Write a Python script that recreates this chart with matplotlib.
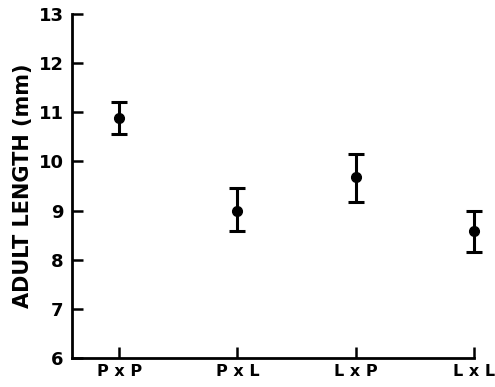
import numpy as np
import matplotlib
matplotlib.use('Agg')
import matplotlib.pyplot as plt

# crosses and adult length (mm)
crosses = ["P x P", "P x L", "L x P", "L x L"]
means = [10.88, 9.0, 9.68, 8.58]
upper = [11.2, 9.45, 10.15, 9.0]
lower = [10.55, 8.58, 9.17, 8.15]

plt.rcParams.update({'font.family': 'DejaVu Sans', 'font.weight': 'bold'})

fig = plt.figure(figsize=(4.95, 3.87), dpi=100)
ax = fig.add_axes([0.145, 0.075, 0.813, 0.889])

x = np.arange(1, len(crosses) + 1)
yerr = [np.array(means) - np.array(lower), np.array(upper) - np.array(means)]
eb = ax.errorbar(x, means, yerr=yerr, fmt='o', color='black', ms=7,
                 elinewidth=2.2, capsize=6, capthick=2.2)
for art in eb.lines[0:1] + tuple(eb.lines[1]) + tuple(eb.lines[2]):
    art.set_clip_on(False)

ax.set_xlim(0.6, 4.0)
ax.set_ylim(6, 13)
ax.set_yticks(range(6, 14))
ax.set_yticklabels([str(v) for v in range(6, 14)], fontsize=13, fontweight='bold')
ax.set_xticks(x)
ax.set_xticklabels(crosses, fontsize=11.5, fontweight='bold')

for s in ['top', 'right']:
    ax.spines[s].set_visible(False)
for s in ['left', 'bottom']:
    ax.spines[s].set_linewidth(2)

ax.tick_params(axis='both', direction='in', length=8, width=1.8)
ax.tick_params(axis='y', pad=6)
ax.tick_params(axis='x', pad=4)

ax.set_ylabel("ADULT LENGTH (mm)", fontsize=15, fontweight='bold', labelpad=4)

fig.savefig('out.png', dpi=100)
